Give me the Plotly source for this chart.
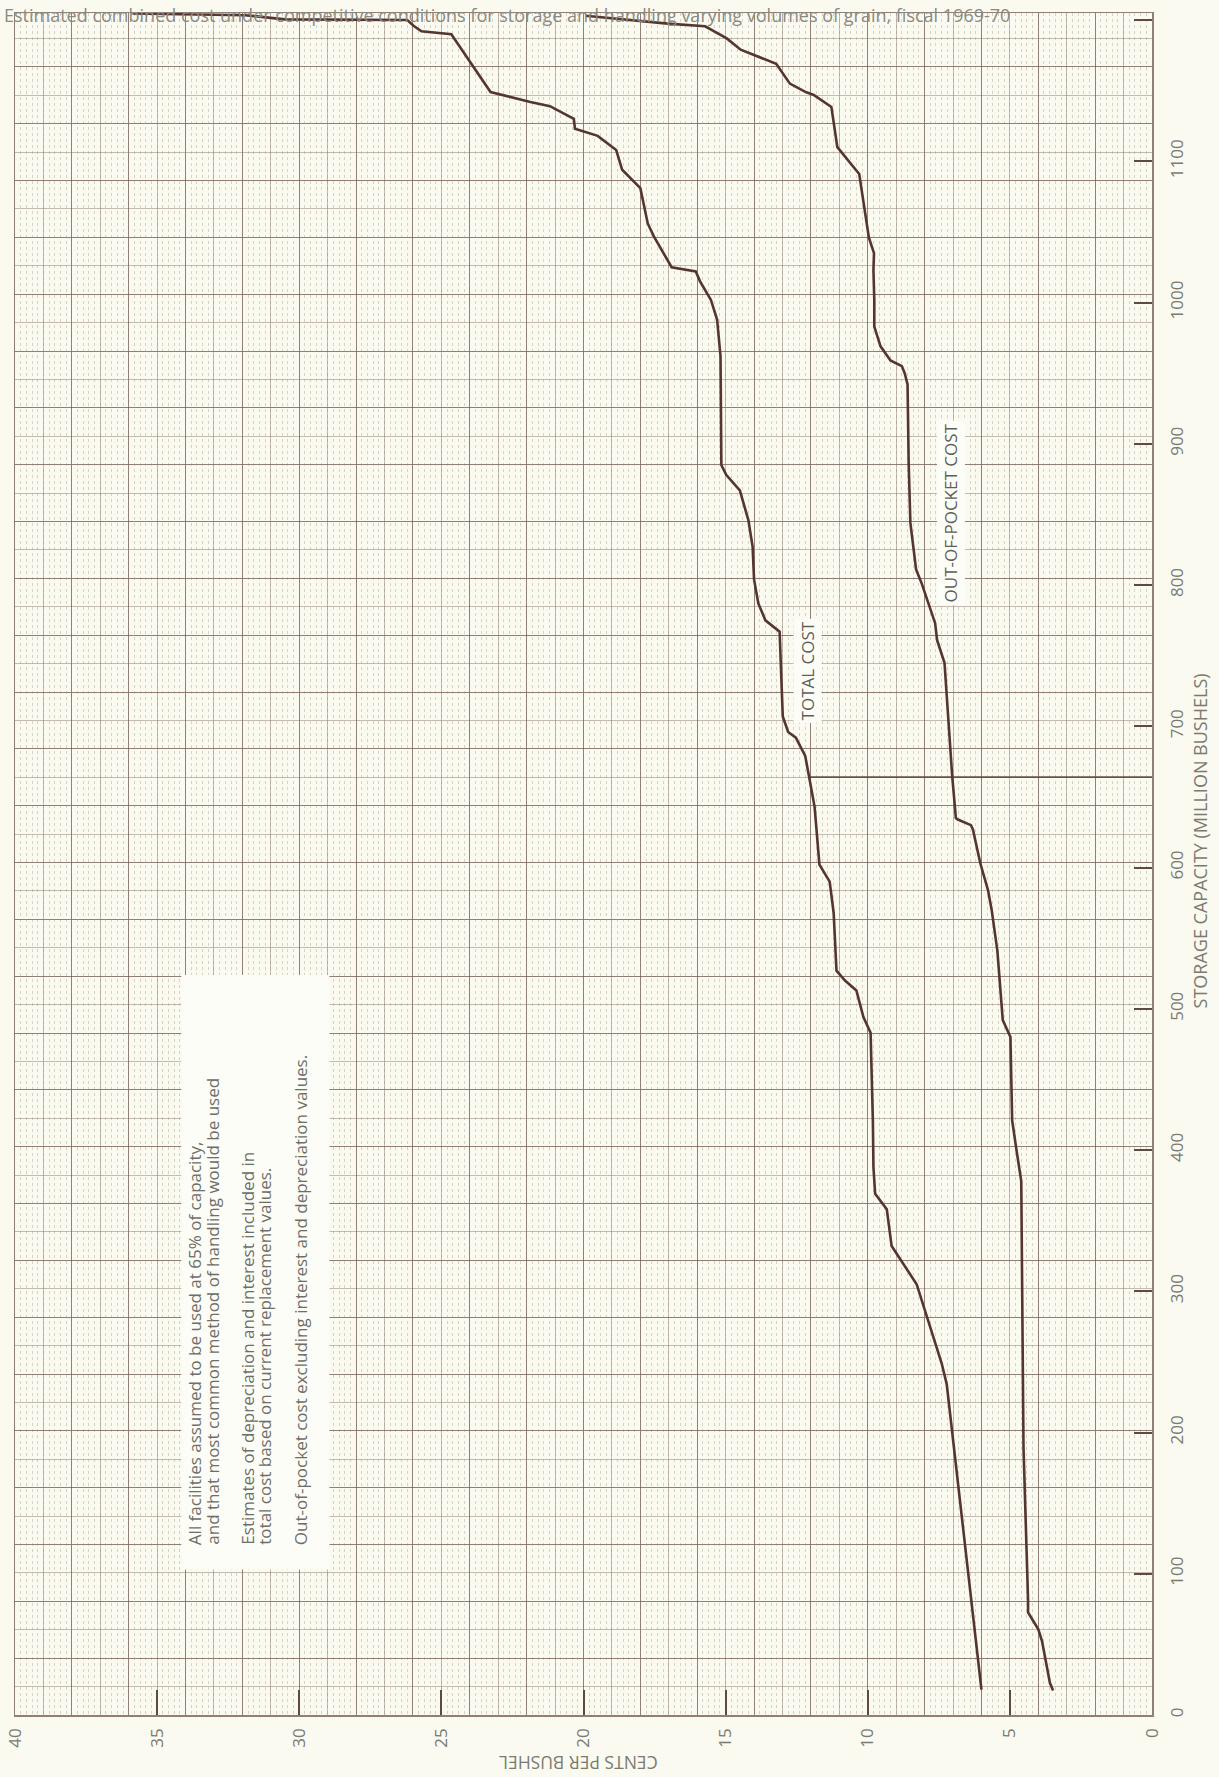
import plotly.graph_objects as go

# ---------------- data ----------------
total_capacity = [18, 138, 199, 234, 249, 286, 305, 332, 358, 369, 388, 421, 483, 494,
                  513, 520, 527, 568, 590, 602, 643, 665, 679, 692, 696, 707, 767, 775,
                  787, 804, 827, 846, 867, 878, 885, 962, 988, 1002, 1015, 1022, 1025,
                  1047, 1056, 1081, 1094, 1108, 1116, 1118, 1123, 1130, 1139, 1142, 1149,
                  1190, 1192, 1196, 1200, 1200.5, 1203.4, 1204.6]
total_cents = [6.0, 6.69, 7.04, 7.22, 7.4, 7.98, 8.28, 9.16, 9.33, 9.74, 9.8, 9.82, 9.9, 10.15,
               10.4, 10.8, 11.1, 11.2, 11.34, 11.7, 11.87, 12.07, 12.2, 12.53, 12.8, 12.99, 13.1, 13.6,
               13.85, 14.0, 14.05, 14.2, 14.5, 14.98, 15.15, 15.18, 15.3, 15.52, 15.9, 16.05, 16.9,
               17.53, 17.74, 18.0, 18.64, 18.85, 19.4, 19.5, 20.3, 20.34, 21.18, 21.87, 23.27,
               24.65, 25.7, 25.98, 26.2, 30.5, 31.9, 35.86]

oop_capacity = [17.4, 22.6, 52.4, 60.7, 72.6, 81, 189, 350, 378, 399, 421, 480, 485, 492,
                541, 570, 584, 603, 627, 630, 634, 635, 665, 705, 728, 745, 761, 773, 801,
                811, 844, 886, 942, 950, 955, 959, 969, 983, 1002, 1023, 1035, 1046, 1091,
                1110, 1138.5, 1147, 1149, 1155, 1169, 1179, 1187, 1195.6, 1197.5, 1200.6, 1203]
oop_cents = [3.48, 3.59, 3.87, 4.0, 4.36, 4.36, 4.52, 4.58, 4.6, 4.76, 4.92, 4.98, 5.1, 5.25,
             5.44, 5.64, 5.77, 6.04, 6.3, 6.37, 6.83, 6.9, 7.03, 7.17, 7.23, 7.3, 7.56, 7.63, 8.1,
             8.3, 8.5, 8.56, 8.6, 8.7, 8.8, 9.2, 9.55, 9.77, 9.77, 9.8, 9.78, 9.96, 10.3,
             11.07, 11.28, 11.9, 12.18, 12.74, 13.22, 14.47, 14.96, 15.72, 17.04, 18.7, 19.93]

ref_capacity = 664
ref_cents = [12.07, 0]

cent_ticks = [0, 5, 10, 15, 20, 25, 30, 35, 40]
capacity_ticks = [0, 100, 200, 300, 400, 500, 600, 700, 800, 900, 1000, 1100, 1200]

title_text = ("Estimated combined cost under competitive conditions for storage and handling "
              "varying volumes of grain, fiscal 1969-70")
note_lines = [
    "All facilities assumed to be used at 65% of capacity,",
    "and that most common method of handling would be used",
    "Estimates of depreciation and interest included in",
    "total cost based on current replacement values.",
    "Out-of-pocket cost excluding interest and depreciation values.",
]
note_line_cents = [33.66, 33.06, 31.83, 31.23, 29.93]

# ---------------- styling ----------------
BG = "#fbfaf0"
BOX = "#fdfdf7"
CURVE = "#553530"
GRID_DARK = "rgba(115,92,82,0.78)"
GRID_LIGHT = "rgba(140,122,112,0.50)"
GRID_FINE = "rgba(150,138,128,0.36)"
TICK = "#5e4a42"
LABEL = "#7a7a72"
FONT = "Open Sans"

SQUARE = 20.118          # capacity units per graph-paper square
Y_MAX = 1205

fig = go.Figure()

# empty traces registering the graph-paper overlay axes
fig.add_trace(go.Scatter(x=[], y=[], xaxis="x2", yaxis="y2", showlegend=False, hoverinfo="skip"))
fig.add_trace(go.Scatter(x=[], y=[], xaxis="x3", yaxis="y2", showlegend=False, hoverinfo="skip"))

fig.add_trace(go.Scatter(x=ref_cents, y=[ref_capacity] * len(ref_cents), mode="lines",
                         line=dict(color="#6b5048", width=1.6), showlegend=False, hoverinfo="skip"))
fig.add_trace(go.Scatter(x=total_cents, y=total_capacity, mode="lines", name="TOTAL COST",
                         line=dict(color=CURVE, width=2.6), showlegend=False))
fig.add_trace(go.Scatter(x=oop_cents, y=oop_capacity, mode="lines", name="OUT-OF-POCKET COST",
                         line=dict(color=CURVE, width=2.6), showlegend=False))

annotations = [
    dict(x=12.13, y=739, xref="x", yref="y", text="TOTAL COST", textangle=-90, showarrow=False,
         font=dict(family=FONT, size=17, color="#5f5f58"), bgcolor=BOX, borderpad=2),
    dict(x=7.09, y=851, xref="x", yref="y", text="OUT-OF-POCKET COST", textangle=-90, showarrow=False,
         font=dict(family=FONT, size=17, color="#5f5f58"), bgcolor=BOX, borderpad=2),
    dict(x=20.2, y=-0.0282, xref="x", yref="paper", xanchor="center", yanchor="middle",
         text="CENTS PER BUSHEL", textangle=180,
         showarrow=False, font=dict(family=FONT, size=17.5, color=LABEL)),
    dict(x=1.042, y=619, xref="paper", yref="y", xanchor="center", yanchor="middle",
         text="STORAGE CAPACITY (MILLION BUSHELS)",
         textangle=-90, showarrow=False, font=dict(family=FONT, size=18, color=LABEL)),
    dict(x=-0.011, y=0.9905, xref="paper", yref="paper", xanchor="left", yanchor="bottom",
         text=title_text, showarrow=False, font=dict(family=FONT, size=18, color="#8a8a82")),
]
for line, c in zip(note_lines, note_line_cents):
    annotations.append(dict(x=c, y=119, xref="x", yref="y", xanchor="center", yanchor="bottom",
                            text=line, textangle=-90, showarrow=False,
                            font=dict(family=FONT, size=17, color="#6e6e68")))

fig.update_layout(
    width=1219, height=1777,
    margin=dict(l=15, r=67, t=13, b=62, autoexpand=False),
    paper_bgcolor=BG, plot_bgcolor=BG,
    showlegend=False, hovermode=False,
    xaxis=dict(range=[40, 0], tickvals=cent_ticks, ticks="inside", ticklen=25, tickwidth=2,
               tickcolor=TICK, tickangle=-90, ticklabelstandoff=5, automargin=False,
               tickfont=dict(family=FONT, size=17, color=LABEL),
               showgrid=False, zeroline=False, showline=True, linecolor=GRID_DARK,
               linewidth=1.5, mirror=True),
    xaxis2=dict(overlaying="x", range=[40, 0], tick0=0, dtick=2, showgrid=True,
                gridcolor=GRID_DARK, gridwidth=1, showticklabels=False, ticks="",
                zeroline=False, showline=False, automargin=False,
                minor=dict(dtick=1, showgrid=True, gridcolor=GRID_LIGHT, gridwidth=1)),
    xaxis3=dict(overlaying="x", range=[40, 0], tick0=0, dtick=0.2, showgrid=True,
                gridcolor=GRID_FINE, gridwidth=1, griddash="dot", showticklabels=False,
                ticks="", zeroline=False, showline=False, automargin=False),
    yaxis=dict(range=[0, Y_MAX], side="right", tickvals=capacity_ticks, ticks="inside",
               ticklen=18, tickwidth=2, tickcolor=TICK, tickangle=-90, ticklabelstandoff=9,
               automargin=False,
               tickfont=dict(family=FONT, size=17, color=LABEL),
               showgrid=False, zeroline=False, showline=True, linecolor=GRID_DARK,
               linewidth=1.5, mirror=True),
    yaxis2=dict(overlaying="y", range=[0, Y_MAX / SQUARE], tick0=0, dtick=2, showgrid=True,
                gridcolor=GRID_DARK, gridwidth=1, showticklabels=False, ticks="",
                zeroline=False, showline=False, side="left", automargin=False,
                minor=dict(dtick=1, showgrid=True, gridcolor=GRID_LIGHT, gridwidth=1)),
    shapes=[dict(type="rect", xref="x", yref="y", x0=34.15, x1=28.94, y0=103, y1=524,
                 fillcolor=BOX, line=dict(width=0), layer="between")],
    annotations=annotations,
)

page_fix = ("document.body.style.margin='0';document.body.style.padding='0';"
            "document.body.style.overflow='hidden';"
            "document.body.style.background='" + BG + "';")
fig.write_html("out.html", post_script=page_fix,
               config={"displayModeBar": False, "staticPlot": True})
